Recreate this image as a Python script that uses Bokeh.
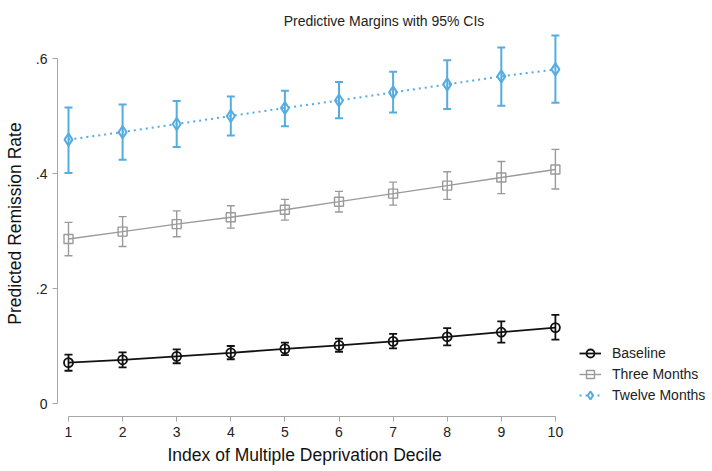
from bokeh.plotting import figure
from bokeh.models import (ColumnDataSource, Whisker, TeeHead, FixedTicker, Legend, LegendItem, Range1d, Title)
from bokeh.embed import file_html
from bokeh.resources import INLINE

deciles = [1, 2, 3, 4, 5, 6, 7, 8, 9, 10]

baseline = [0.071, 0.076, 0.082, 0.088, 0.095, 0.101, 0.108, 0.116, 0.124, 0.132]
baseline_lo = [0.057, 0.063, 0.070, 0.077, 0.084, 0.090, 0.096, 0.101, 0.106, 0.111]
baseline_hi = [0.085, 0.089, 0.094, 0.100, 0.106, 0.113, 0.121, 0.131, 0.143, 0.154]

three = [0.286, 0.299, 0.312, 0.324, 0.337, 0.351, 0.365, 0.379, 0.393, 0.407]
three_lo = [0.257, 0.273, 0.290, 0.305, 0.319, 0.333, 0.345, 0.355, 0.365, 0.373]
three_hi = [0.315, 0.325, 0.335, 0.344, 0.355, 0.369, 0.385, 0.403, 0.421, 0.442]

twelve = [0.459, 0.472, 0.486, 0.500, 0.514, 0.527, 0.541, 0.555, 0.569, 0.581]
twelve_lo = [0.401, 0.424, 0.446, 0.466, 0.482, 0.496, 0.506, 0.512, 0.518, 0.523]
twelve_hi = [0.515, 0.520, 0.526, 0.534, 0.544, 0.559, 0.577, 0.597, 0.619, 0.640]

series_names = ["Baseline", "Three Months", "Twelve Months"]
y_ticks = [0, 0.2, 0.4, 0.6]
y_tick_labels = ["0", ".2", ".4", ".6"]
x_title = "Index of Multiple Deprivation Decile"
y_title = "Predicted Remission Rate"

FONT = "Liberation Sans"
BLACK = "#111111"
GRAY = "#9a9a9a"
BLUE = "#55ace0"
AXIS_GRAY = "#a6a6a6"

W, H = 712, 471
left, right, top, bottom = 57, 2, 30, 55
ppx = 54.1
x0 = 1 - 11 / ppx
x1 = x0 + (W - left - right) / ppx
ppy = 575.0
y0 = -13 / ppy
y1 = y0 + (H - top - bottom) / ppy

p = figure(width=W, height=H, output_backend="svg", toolbar_location=None,
           x_range=Range1d(x0, x1), y_range=Range1d(y0, y1),
           min_border_left=left, min_border_right=right,
           min_border_top=top, min_border_bottom=bottom,
           title="Predictive Margins with 95% CIs")
p.title.align = "center"
p.title.vertical_align = "top"
p.title.text_font = FONT
p.title.text_font_size = "14px"
p.title.text_font_style = "normal"
p.title.text_color = "#222222"
p.title.standoff = 0
p.title.offset = 0

p.grid.visible = False
p.outline_line_color = None
p.background_fill_color = "white"
p.border_fill_color = "white"

for ax in (p.xaxis[0], p.yaxis[0]):
    ax.axis_line_color = AXIS_GRAY
    ax.major_tick_line_color = AXIS_GRAY
    ax.minor_tick_line_color = None
    ax.major_tick_in = 0
    ax.major_tick_out = 5
    ax.major_label_text_font = FONT
    ax.major_label_text_font_size = "14px"
    ax.major_label_text_color = "#222222"
    ax.axis_label_text_font = FONT
    ax.axis_label_text_font_size = "17.5px"
    ax.axis_label_text_font_style = "normal"
    ax.axis_label_text_color = "#111111"

p.xaxis.ticker = FixedTicker(ticks=deciles)
p.xaxis.bounds = (1, 10)
p.xaxis.major_label_standoff = 5

# x-axis title placed under the 1..10 axis span (not centred on the whole frame)
xt = Title(text=x_title, align="left", offset=110, standoff=7,
           text_font=FONT, text_font_size="17.5px", text_font_style="normal",
           text_color="#111111")
p.add_layout(xt, "below")

p.yaxis.ticker = FixedTicker(ticks=y_ticks)
p.yaxis.major_label_overrides = {t: l for t, l in zip(y_ticks, y_tick_labels)}
p.yaxis.bounds = (0, 0.6)
p.yaxis.axis_label = y_title
p.yaxis.major_label_orientation = "horizontal"
p.yaxis.major_label_standoff = 5
p.yaxis.axis_label_standoff = 8

items = []
specs = [
    (baseline, baseline_lo, baseline_hi, BLACK, "circle", "solid", 1.8, 9),
    (three, three_lo, three_hi, GRAY, "square", "solid", 1.4, 9),
    (twelve, twelve_lo, twelve_hi, BLUE, "diamond", "2 4", 2.0, 12),
]
for name, (vals, lo, hi, col, marker, dash, lw, msize) in zip(series_names, specs):
    src = ColumnDataSource(dict(x=deciles, y=vals, lo=lo, hi=hi))
    ln = p.line("x", "y", source=src, line_color=col, line_width=lw, line_dash=dash)
    w = Whisker(source=src, base="x", upper="hi", lower="lo", line_color=col, line_width=lw,
                upper_head=TeeHead(size=8, line_color=col, line_width=lw),
                lower_head=TeeHead(size=8, line_color=col, line_width=lw))
    p.add_layout(w)
    sc = p.scatter("x", "y", source=src, marker=marker, size=msize, fill_color="white",
                   fill_alpha=0.0, line_color=col, line_width=lw)
    items.append(LegendItem(label=name, renderers=[ln, sc]))

legend = Legend(items=items, location=(522, 11), orientation="vertical")
legend.background_fill_alpha = 0
legend.border_line_color = None
legend.padding = 0
legend.margin = 0
legend.spacing = 1
legend.glyph_width = 22
legend.glyph_height = 20
legend.label_standoff = 11
legend.label_text_font = FONT
legend.label_text_font_size = "14px"
legend.label_text_color = "#222222"
legend.label_height = 20
p.add_layout(legend)

open("out.html", "w").write(file_html(p, INLINE))
